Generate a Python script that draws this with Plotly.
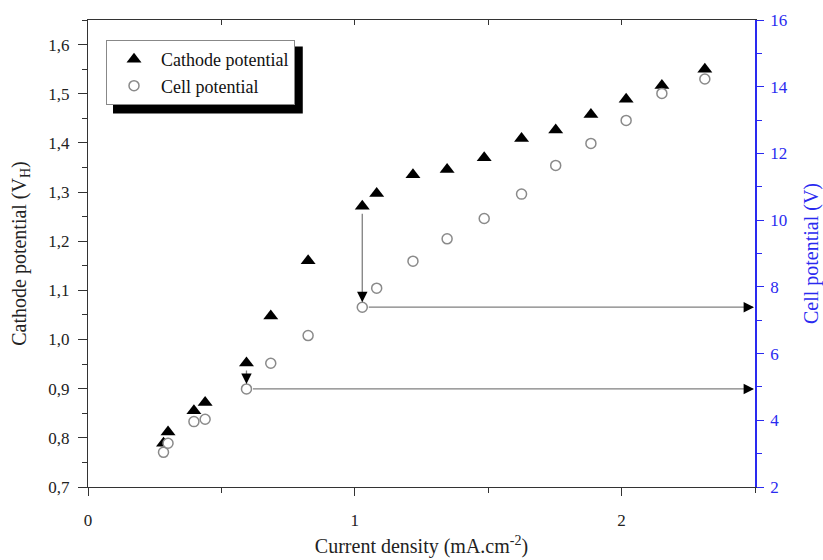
import plotly.graph_objects as go

# ---- data ----
current_density = [0.283, 0.300, 0.397, 0.439, 0.594, 0.685, 0.825, 1.028, 1.082,
                   1.218, 1.346, 1.485, 1.625, 1.753, 1.885, 2.017, 2.151, 2.312]
cathode_potential = [0.789, 0.812, 0.855, 0.872, 0.952, 1.048, 1.160, 1.271, 1.297,
                     1.335, 1.346, 1.370, 1.409, 1.426, 1.458, 1.489, 1.517, 1.550]
cell_potential = [3.04, 3.31, 3.96, 4.03, 4.94, 5.71, 6.54, 7.39, 7.96,
                  8.77, 9.44, 10.05, 10.78, 11.64, 12.30, 12.99, 13.80, 14.23]
arrow_points = [4, 7]

x_range = [0, 2.5]
y_left_range = [0.7, 1.65]
y_right_range = [2, 16]

FONT = "Liberation Serif"
BLUE = "#2a2af0"

def left_to_right(v):
    return y_right_range[0] + (v - y_left_range[0]) * (y_right_range[1] - y_right_range[0]) / (y_left_range[1] - y_left_range[0])

fig = go.Figure()
fig.add_trace(go.Scatter(
    x=current_density, y=cathode_potential, mode="markers", name="Cathode potential",
    marker=dict(symbol="triangle-up", size=13, color="black"),
    xaxis="x", yaxis="y"))
fig.add_trace(go.Scatter(
    x=current_density, y=cell_potential, mode="markers", name="Cell potential",
    marker=dict(symbol="circle", size=10, color="white", line=dict(color="#8a8a8a", width=1.5)),
    xaxis="x", yaxis="y2"))
# carrier for top mirrored axis
fig.add_trace(go.Scatter(x=[None], y=[None], xaxis="x3", yaxis="y", showlegend=False, hoverinfo="skip"))

annotations = []
for i in arrow_points:
    xc = current_density[i]
    yc = cell_potential[i]
    yt = left_to_right(cathode_potential[i])
    # vertical gray line from triangle to circle
    annotations.append(dict(x=xc, y=yc, xref="x", yref="y2", ax=xc, ay=yt, axref="x", ayref="y2",
                            showarrow=True, arrowhead=0, arrowwidth=1.3, arrowcolor="#808080",
                            standoff=7, startstandoff=6, text=""))
    annotations.append(dict(x=xc, y=yc, xref="x", yref="y2", ax=0, ay=-14,
                            showarrow=True, arrowhead=2, arrowsize=1.6, arrowwidth=1.3, arrowcolor="black",
                            standoff=5, text=""))
    # horizontal gray line from circle to right axis
    annotations.append(dict(x=x_range[1], y=yc, xref="x", yref="y2", ax=xc, ay=yc, axref="x", ayref="y2",
                            showarrow=True, arrowhead=0, arrowwidth=1.3, arrowcolor="#808080",
                            standoff=2, startstandoff=5, text=""))
    annotations.append(dict(x=x_range[1], y=yc, xref="x", yref="y2", ax=-10, ay=0,
                            showarrow=True, arrowhead=2, arrowsize=1.6, arrowwidth=1.3, arrowcolor="black",
                            standoff=1, text=""))

tickfont = dict(family=FONT, size=17, color="#222")
fig.update_layout(
    width=823, height=560,
    margin=dict(l=88, r=68, t=20, b=73, autoexpand=False),
    paper_bgcolor="white", plot_bgcolor="white",
    separators=", ",
    font=dict(family=FONT, color="#222"),
    showlegend=True,
    legend=dict(x=0.027, y=0.957, xanchor="left", yanchor="top",
                bgcolor="white", bordercolor="#888", borderwidth=1,
                font=dict(family=FONT, size=18, color="#111"),
                tracegroupgap=0, itemwidth=44),
    xaxis=dict(range=x_range, dtick=1, tick0=0, ticks="outside", ticklen=8, tickwidth=1.2,
               tickcolor="#333", minor=dict(dtick=0.5, ticks="outside", ticklen=5, tickcolor="#333"),
               showline=True, linecolor="#333", linewidth=1.3, mirror=True, automargin=False,
               showgrid=False, zeroline=False, tickfont=tickfont, ticklabelstandoff=9,
               title=dict(text="Current density (mA.cm<sup>-2</sup>)", font=dict(family=FONT, size=20, color="#222"),
                          standoff=10)),
    xaxis3=dict(range=x_range, overlaying="x", side="top", anchor="y", dtick=0.5, tick0=0,
                ticks="inside", ticklen=5, tickcolor="#333", showticklabels=False, automargin=False,
                showline=False, showgrid=False, zeroline=False),
    yaxis=dict(range=y_left_range, dtick=0.1, tick0=0.7, tickformat=".1f", ticks="outside", ticklen=9,
               tickwidth=1.2, tickcolor="#333", automargin=False,
               minor=dict(dtick=0.05, ticks="outside", ticklen=5, tickcolor="#333"),
               showline=True, linecolor="#333", linewidth=1.3, mirror=False,
               showgrid=False, zeroline=False, tickfont=tickfont, ticklabelstandoff=5,
               title=dict(text="Cathode potential (V<sub>H</sub>)", font=dict(family=FONT, size=20, color="#222"),
                          standoff=16)),
    yaxis2=dict(range=y_right_range, overlaying="y", side="right", anchor="x", dtick=2, tick0=2,
                ticks="outside", ticklen=7, tickwidth=1.2, tickcolor=BLUE, automargin=False,
                minor=dict(dtick=1, ticks="outside", ticklen=5, tickcolor=BLUE),
                showline=True, linecolor=BLUE, linewidth=1.5, showgrid=False, zeroline=False,
                tickfont=dict(family=FONT, size=17, color=BLUE), ticklabelstandoff=3,
                title=dict(text="Cell potential (V)", font=dict(family=FONT, size=20, color=BLUE),
                           standoff=20)),
    annotations=annotations,
    shapes=[dict(type="rect", xref="paper", yref="paper", x0=0.0375, x1=0.322, y0=0.80, y1=0.943,
                 fillcolor="black", line=dict(width=0), layer="above")],
)

fig.write_html("out.html")
